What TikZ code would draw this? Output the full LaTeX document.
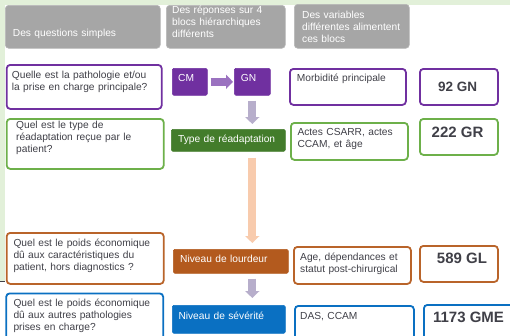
\documentclass[tikz,border=0pt]{standalone}
\usepackage{fontspec}
\setmainfont{Liberation Sans}
\usetikzlibrary{arrows.meta}

\definecolor{bggreen}{HTML}{E2F0D9}
\definecolor{hdrgray}{HTML}{A6A6A6}
\definecolor{txtdark}{HTML}{404048}
\definecolor{cpurple}{HTML}{7030A0}
\definecolor{cgreen}{HTML}{6DB04A}
\definecolor{cgreenfill}{HTML}{437C2B}
\definecolor{cbrown}{HTML}{B9642A}
\definecolor{cbrownfill}{HTML}{B35A1E}
\definecolor{cblue}{HTML}{0A70C2}
\definecolor{apurple}{HTML}{9B72C0}
\definecolor{alav}{HTML}{B7AECB}
\definecolor{apeach}{HTML}{F8CBAD}

\tikzset{
  hdr/.style={fill=hdrgray, draw=hdrgray!80, line width=0.6pt, rounded corners=3.5pt, inner sep=0pt, anchor=north west},
  qbox/.style={draw=#1, fill=white, line width=1.8pt, rounded corners=3.5pt, inner sep=0pt, anchor=north west},
  solid box/.style={fill=#1, draw=#1, line width=0.6pt, rounded corners=1.5pt, inner sep=0pt, anchor=north west},
  txt/.style={font=\fontsize{10.2}{12}\selectfont, text=txtdark, align=left, text width=160pt, inner sep=0pt, anchor=base west},
  htxt/.style={txt, text=white},
  wtxt/.style={txt, text=white},
  num/.style={font=\bfseries\fontsize{15}{17}\selectfont, text=txtdark, inner sep=0pt, anchor=base},
  bigarrow/.style={draw=#1, line width=8pt, -{Triangle[width=14pt,length=7pt,fill=#1]}}
}

\begin{document}
\begin{tikzpicture}[x=1pt,y=-1pt]
\useasboundingbox (0,0) rectangle (510,335);

% light green frame along the top and left edges
\fill[bggreen] (0,0) rectangle (510,4.5);
\fill[bggreen] (0,0) rectangle (4.5,281);
\draw[txtdark, line width=1.2pt] (0,281.5) -- (5,281.5);

% column headers
\node[hdr, minimum width=155, minimum height=43] (h1) at (5,5) {};
\node[hdr, minimum width=119, minimum height=43] (h2) at (166,5) {};
\node[hdr, minimum width=115, minimum height=44] (h3) at (294,4) {};
\node[htxt] (h1t) at (12.7,36.5) {Des questions simples};
\node[htxt] (h2t) at (172,13.5) {Des réponses sur 4\\blocs hiérarchiques\\différents};
\node[htxt] (h3t) at (302,18.5) {Des variables\\différentes alimentent\\ces blocs};

% row 1: principal pathology
\node[qbox=cpurple, minimum width=155, minimum height=44] (q1) at (5.8,64) {};
\node[txt] (q1t) at (11.7,78.5) {Quelle est la pathologie et/ou\\la prise en charge principale?};
\node[solid box=cpurple, minimum width=35, minimum height=27] (cm) at (172,68) {};
\node[wtxt] (cmt) at (178,81.3) {CM};
\node[solid box=cpurple, minimum width=36, minimum height=27] (gn) at (234,68) {};
\node[wtxt] (gnt) at (240.7,81.3) {GN};
\node[qbox=cpurple, minimum width=116, minimum height=36] (m1) at (289,68) {};
\node[txt] (m1t) at (296.7,81.8) {Morbidité principale};
\node[qbox=cpurple, minimum width=78, minimum height=36] (n1) at (419,68) {};
\node[num, font=\bfseries\fontsize{13.5}{15}\selectfont] (n1t) at (457.5,91.3) {92 GN};

% row 2: rehabilitation type
\node[qbox=cgreen, minimum width=157, minimum height=50] (q2) at (5.8,118) {};
\node[txt] (q2t) at (16,128.5) {Quel est le type de\\réadaptation reçue par le\\patient?};
\node[solid box=cgreenfill, minimum width=114, minimum height=22] (t) at (171,129) {};
\node[wtxt] (tt) at (178,142.5) {Type de réadaptation};
\node[qbox=cgreen, minimum width=117, minimum height=37] (m2) at (290,122) {};
\node[txt] (m2t) at (297.3,135.8) {Actes CSARR, actes\\CCAM, et âge};
\node[qbox=cgreen, minimum width=78, minimum height=36] (n2) at (419,118) {};
\node[num] (n2t) at (457.5,137.2) {222 GR};

% row 3: dependency level
\node[qbox=cbrown, minimum width=157, minimum height=51] (q3) at (5.8,232) {};
\node[txt] (q3t) at (13.3,246.2) {Quel est le poids économique\\dû aux caractéristiques du\\patient, hors diagnostics ?};
\node[solid box=cbrownfill, minimum width=115, minimum height=24] (l) at (173,249) {};
\node[wtxt] (lt) at (180,262.8) {Niveau de lourdeur};
\node[qbox=cbrown, minimum width=117, minimum height=37] (m3) at (293,246) {};
\node[txt] (m3t) at (300,260.8) {Age, dépendances et\\statut post-chirurgical};
\node[qbox=cbrown, minimum width=78, minimum height=36] (n3) at (419,245) {};
\node[num] (n3t) at (462,263.7) {589 GL};

% row 4: severity level
\node[qbox=cblue, minimum width=157, minimum height=60] (q4) at (5.3,292.5) {};
\node[txt] (q4t) at (13.3,306.2) {Quel est le poids économique\\dû aux autres pathologies\\prises en charge?};
\node[solid box=cblue, minimum width=113, minimum height=28] (s) at (172,305) {};
\node[wtxt] (st) at (178.3,319.2) {Niveau de sévérité};
\node[qbox=cblue, minimum width=119, minimum height=50] (m4) at (294,305) {};
\node[txt] (m4t) at (300,319.2) {DAS, CCAM};
\node[qbox=cblue, minimum width=100, minimum height=50] (n4) at (423,304) {};
\node[num] (n4t) at (468.5,322) {1173 GME};

% hierarchy arrows
\draw[bigarrow=apurple, line width=7.5pt, shorten <=3pt, shorten >=1pt] (cm.east) -- (gn.west);
\draw[bigarrow=alav, shorten <=5pt, shorten >=5pt] (gn.south) -- (gn.south |- t.north);
\draw[bigarrow=apeach, shorten <=6pt, shorten >=6pt] (t.south -| gn.south) -- (l.north -| gn.south);
\draw[bigarrow=alav, shorten <=5pt, shorten >=7pt] (l.south -| gn.south) -- (s.north -| gn.south);
\end{tikzpicture}
\end{document}
